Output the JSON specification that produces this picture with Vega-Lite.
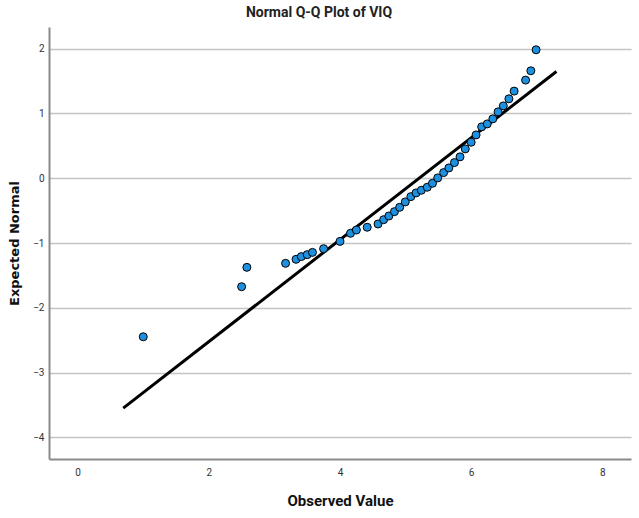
{
  "$schema": "https://vega.github.io/schema/vega-lite/v6.json",
  "width": 582,
  "height": 432,
  "autosize": "none",
  "padding": {"left": 49, "top": 27, "right": 8, "bottom": 59},
  "background": "white",
  "title": {
    "text": "Normal Q-Q Plot of VIQ",
    "font": "Roboto",
    "fontSize": 14,
    "fontWeight": "bold",
    "color": "#222222",
    "anchor": "middle",
    "dx": -21,
    "offset": 7
  },
  "config": {
    "view": {"stroke": null},
    "axis": {
      "labelFont": "Roboto",
      "labelFontSize": 10,
      "labelColor": "#333333",
      "domainColor": "#8a8a8a",
      "domainWidth": 2,
      "ticks": false,
      "format": "d"
    }
  },
  "datasets": {
    "pts": [
      {"obs": 1.0, "exp": -2.448},
      {"obs": 2.5, "exp": -1.675},
      {"obs": 2.58, "exp": -1.376},
      {"obs": 3.17, "exp": -1.314},
      {"obs": 3.33, "exp": -1.252},
      {"obs": 3.41, "exp": -1.21},
      {"obs": 3.5, "exp": -1.18},
      {"obs": 3.58, "exp": -1.145},
      {"obs": 3.75, "exp": -1.088},
      {"obs": 4.0, "exp": -0.975},
      {"obs": 4.16, "exp": -0.85},
      {"obs": 4.25, "exp": -0.8},
      {"obs": 4.415, "exp": -0.757},
      {"obs": 4.58, "exp": -0.706},
      {"obs": 4.665, "exp": -0.64},
      {"obs": 4.745, "exp": -0.583},
      {"obs": 4.83, "exp": -0.516},
      {"obs": 4.91, "exp": -0.449},
      {"obs": 4.995, "exp": -0.366},
      {"obs": 5.08, "exp": -0.284},
      {"obs": 5.16, "exp": -0.227},
      {"obs": 5.24, "exp": -0.186},
      {"obs": 5.33, "exp": -0.139},
      {"obs": 5.41, "exp": -0.078},
      {"obs": 5.49, "exp": 0.005},
      {"obs": 5.58, "exp": 0.087},
      {"obs": 5.66, "exp": 0.159},
      {"obs": 5.745, "exp": 0.241},
      {"obs": 5.83, "exp": 0.33},
      {"obs": 5.91, "exp": 0.453},
      {"obs": 6.0, "exp": 0.556},
      {"obs": 6.075, "exp": 0.669},
      {"obs": 6.16, "exp": 0.793},
      {"obs": 6.245, "exp": 0.839},
      {"obs": 6.33, "exp": 0.917},
      {"obs": 6.41, "exp": 1.025},
      {"obs": 6.49, "exp": 1.117},
      {"obs": 6.575, "exp": 1.226},
      {"obs": 6.655, "exp": 1.345},
      {"obs": 6.83, "exp": 1.515},
      {"obs": 6.91, "exp": 1.659},
      {"obs": 6.99, "exp": 1.983}
    ],
    "fit": [
      {"obs": 0.695, "exp": -3.55},
      {"obs": 7.3, "exp": 1.648}
    ]
  },
  "layer": [
    {
      "data": {"name": "fit"},
      "mark": {"type": "line", "color": "black", "strokeWidth": 3, "clip": true},
      "encoding": {
        "x": {
          "field": "obs",
          "type": "quantitative",
          "scale": {"domain": [-0.437, 8.437], "nice": false, "zero": false},
          "axis": {
            "values": [0, 2, 4, 6, 8],
            "grid": false,
            "title": "Observed Value",
            "titleFont": "Roboto",
            "titleFontSize": 15,
            "titleFontWeight": "bold",
            "titleColor": "#111111",
            "titlePadding": 16,
            "labelPadding": 8
          }
        },
        "y": {
          "field": "exp",
          "type": "quantitative",
          "scale": {"domain": [-4.335, 2.335], "nice": false, "zero": false},
          "axis": {
            "values": [-4, -3, -2, -1, 0, 1, 2],
            "grid": true,
            "gridColor": "#c4c4c4",
            "gridWidth": 1.5,
            "title": "Expected Normal",
            "titleFont": "DejaVu Sans",
            "titleFontSize": 13,
            "titleFontWeight": "bold",
            "titleColor": "#111111",
            "titlePadding": 11,
            "labelPadding": 5
          }
        }
      }
    },
    {
      "data": {"name": "pts"},
      "mark": {"type": "point", "shape": "circle", "filled": true, "size": 64, "fill": "#1e90e0", "stroke": "black", "strokeWidth": 1, "opacity": 1},
      "encoding": {
        "x": {"field": "obs", "type": "quantitative"},
        "y": {"field": "exp", "type": "quantitative"}
      }
    }
  ]
}
